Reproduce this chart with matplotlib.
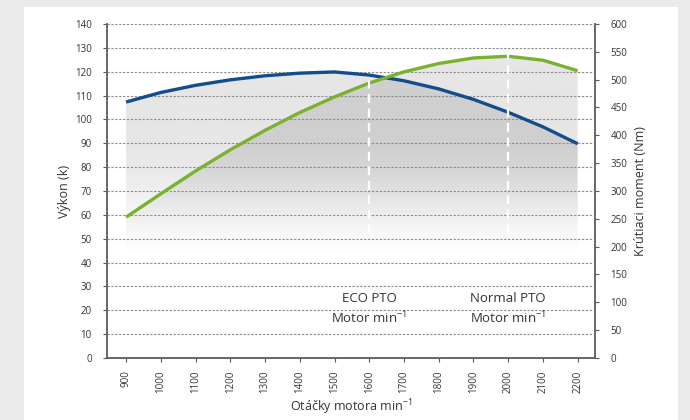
import numpy as np
import matplotlib
matplotlib.use("Agg")
import matplotlib.pyplot as plt
from matplotlib.patches import Rectangle

plt.rcParams['font.family'] = ['Open Sans', 'DejaVu Sans']
plt.rcParams['mathtext.default'] = 'regular'

# data
rpm = [900, 1000, 1100, 1200, 1300, 1400, 1500, 1600, 1700, 1800, 1900, 2000, 2100, 2200]
power = [107.3, 111.3, 114.3, 116.6, 118.3, 119.4, 119.9, 118.6, 116.2, 112.8, 108.4, 103.0, 96.9, 89.8]
torque = [253, 295, 336, 374, 409, 441, 469, 494, 514, 529, 539, 542, 535, 516]
pto_rpm = [1600, 2000]
pto_names = ["ECO PTO", "Normal PTO"]
pto_bottom = 225  # Nm, where the white marker lines stop

blue = "#134d8b"
green = "#79b22f"
txt = "#333333"

fig = plt.figure(figsize=(6.9, 4.2), dpi=100, facecolor="#ebebeb")
fig.patches.append(Rectangle((24/690, 0), (678-24)/690, 1-7/420, transform=fig.transFigure,
                             facecolor="white", edgecolor="none", zorder=-10))

ax = fig.add_axes([107/690, 1-358/420, (595-107)/690, (358-24)/420])
ax2 = ax.twinx()
ax.set_zorder(ax2.get_zorder() + 1)
ax.patch.set_visible(False)

ax.set_xlim(845, 2250)
ax.set_ylim(0, 140)
ax2.set_ylim(0, 600)


def gradient(poly, top_alpha):
    n = 300
    v = (np.arange(n) + 0.5) / n * 140
    t = np.clip((v - 38) / 54.0, 0, 1)
    img = np.zeros((n, 1, 4))
    img[:, 0, 3] = top_alpha * t * t * (3 - 2 * t)
    im = ax2.imshow(img, extent=(rpm[0], rpm[-1], 0, 600), origin="lower",
                    aspect="auto", interpolation="bilinear", zorder=1)
    im.set_clip_path(poly.get_paths()[0], poly.get_transform())


# shaded areas under both curves (bottom axis layer)
pb = ax2.fill_between(rpm, power, 0, transform=ax.transData, facecolor="none", edgecolor="none")
gradient(pb, 0.10)
pg = ax2.fill_between(rpm, torque, 0, facecolor="none", edgecolor="none")
gradient(pg, 0.10)
ax2.set_xlim(845, 2250)
ax2.set_ylim(0, 600)

# curves on the top layer
ax.plot(rpm, power, color=blue, lw=2.4, solid_capstyle="butt", zorder=4)
ax.plot(rpm, torque, color=green, lw=2.4, solid_capstyle="butt", zorder=4,
        transform=ax2.transData)

# white dashed PTO markers
for r in pto_rpm:
    top = torque[rpm.index(r)]
    ax.plot([r, r], [pto_bottom, top + 4], color="white", lw=1.6,
            linestyle=(0, (4, 2.5)), transform=ax2.transData, zorder=5)

for r, name in zip(pto_rpm, pto_names):
    ax.text(r, 24.8, name, ha="center", va="center", fontsize=9.5, color=txt, zorder=6)
    ax.text(r, 16.8, "Motor min$^{-1}$", ha="center", va="center", fontsize=9.5, color=txt, zorder=6)

# grid and axes styling
ax.set_yticks(np.arange(0, 141, 10))
ax.set_xticks(rpm)
ax.set_xticklabels([str(r) for r in rpm], rotation=90)
ax2.set_yticks(np.arange(0, 601, 50))
ax.yaxis.grid(True, color="#8a8a8a", lw=0.8, linestyle=(0, (2, 1.5)))
ax.set_axisbelow(False)

for a in (ax, ax2):
    for s in a.spines.values():
        s.set_color("#5a5a5a")
        s.set_linewidth(1.3)
    a.spines["top"].set_visible(False)
ax.spines["right"].set_visible(False)
ax2.spines["left"].set_visible(False)
ax2.spines["bottom"].set_visible(False)

ax.tick_params(axis="y", length=3, width=0.8, color="#5a5a5a", pad=8, labelsize=7, labelcolor=txt)
ax.tick_params(axis="x", length=3, width=0.8, color="#5a5a5a", pad=6, labelsize=7, labelcolor=txt)
ax2.tick_params(axis="y", length=3, width=0.8, color="#5a5a5a", pad=8, labelsize=7, labelcolor=txt)

ax.set_ylabel("Výkon (k)", fontsize=9, color=txt, labelpad=3)
ax2.set_ylabel("Krútiaci moment (Nm)", fontsize=9, color=txt, labelpad=5)
ax.set_xlabel("Otáčky motora min$^{-1}$", fontsize=9, color=txt, labelpad=3)

fig.savefig("out.png", dpi=100, facecolor=fig.get_facecolor())
